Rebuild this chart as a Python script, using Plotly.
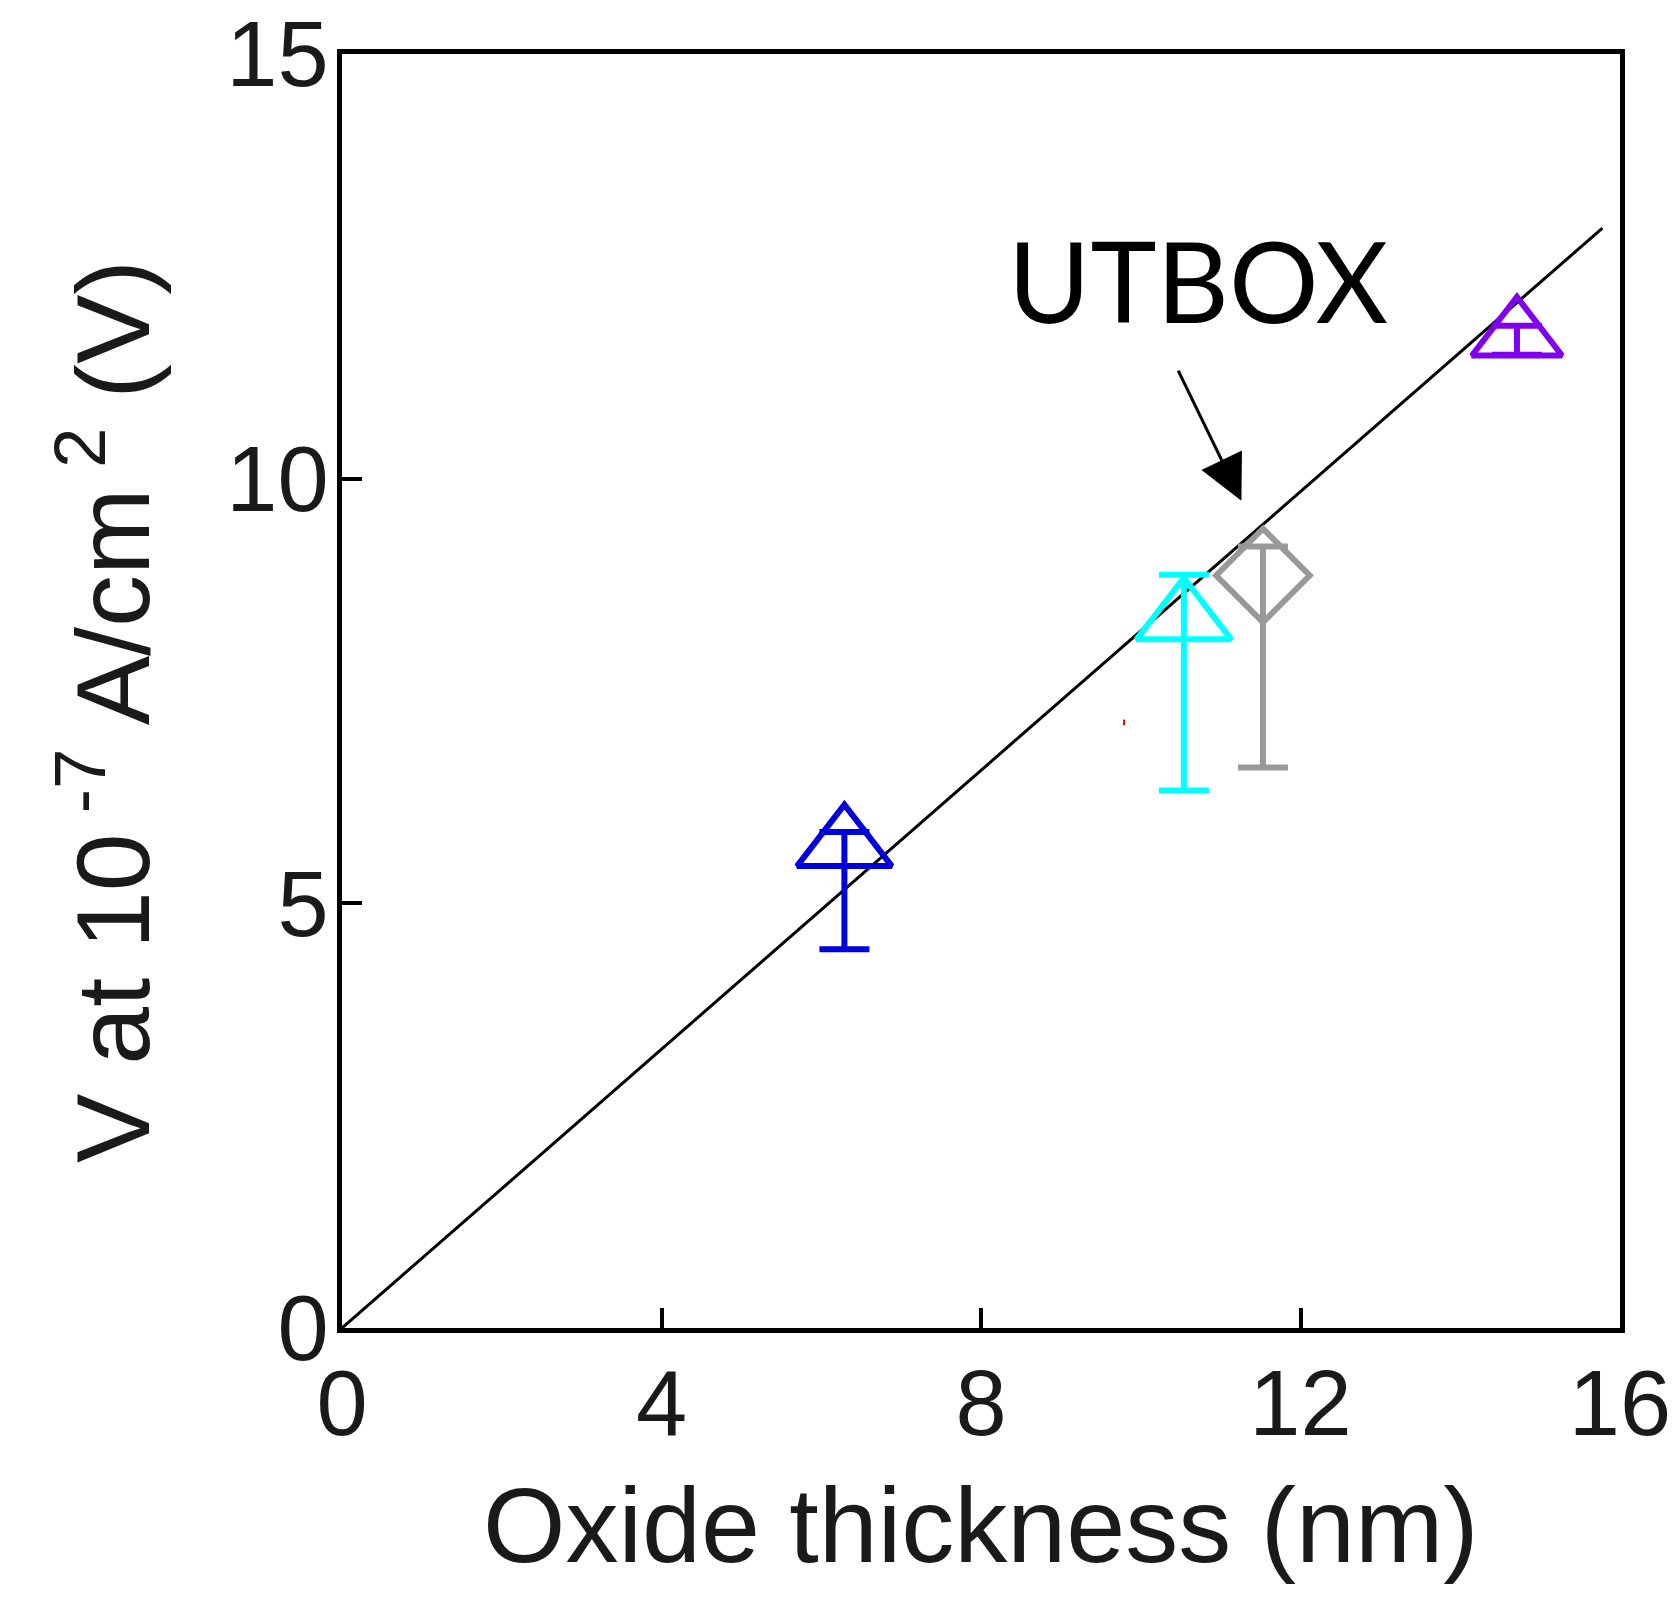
import plotly.graph_objects as go

# ---- data ----
thickness = [6.29, 10.54, 11.53, 14.71]          # nm
voltage = [5.68, 8.35, 8.86, 11.68]               # V
err_plus = [0.16, 0.52, 0.34, 0.12]
err_minus = [1.22, 2.02, 2.26, 0.22]
colors = ["#0000dd", "#00ffff", "#999999", "#8000ee"]
symbols = ["triangle-up-open", "triangle-up-open", "diamond-open", "triangle-up-open"]
sizes = [82, 82, 72, 78]

fit_x = [0.0, 15.78]
fit_y = [0.0, 12.95]

stray_x = [9.79]
stray_y = [7.13]

x_ticks = [0, 4, 8, 12, 16]
y_ticks = [0, 5, 10, 15]

arrow_tail = (10.46, 11.29)
arrow_tip = (11.26, 9.74)
label_pos = (10.72, 12.34)

x_title = "Oxide thickness (nm)"
y_title = "V at 10<sup> -7</sup> A/cm<sup> 2</sup> (V)"

fig = go.Figure()

fig.add_trace(go.Scatter(x=fit_x, y=fit_y, mode="lines",
                         line=dict(color="black", width=3), showlegend=False))

for i in range(len(thickness)):
    fig.add_trace(go.Scatter(
        x=[thickness[i]], y=[voltage[i]], mode="markers",
        marker=dict(symbol=symbols[i], size=sizes[i], color=colors[i],
                    line=dict(color=colors[i], width=6)),
        error_y=dict(type="data", symmetric=False, array=[err_plus[i]],
                     arrayminus=[err_minus[i]], color=colors[i],
                     thickness=6, width=25),
        showlegend=False))

fig.add_trace(go.Scatter(x=stray_x, y=stray_y, mode="markers",
                         marker=dict(color="red", size=4, symbol="line-ns",
                                     line=dict(color="red", width=2)),
                         showlegend=False))

fig.add_annotation(x=arrow_tip[0], y=arrow_tip[1], ax=arrow_tail[0], ay=arrow_tail[1],
                   xref="x", yref="y", axref="x", ayref="y", text="",
                   showarrow=True, arrowhead=2, arrowsize=3, arrowwidth=3,
                   arrowcolor="black")
fig.add_annotation(x=label_pos[0], y=label_pos[1], xref="x", yref="y",
                   text="UTBOX", showarrow=False,
                   font=dict(family="Lato", size=112, color="black"))

title_font = dict(family="Liberation Sans, Arial", size=106, color="#1a1a1a")
fig.add_annotation(x=0.5, y=-0.155, xref="paper", yref="paper", text=x_title,
                   showarrow=False, xanchor="center", yanchor="middle",
                   font=title_font)
fig.add_annotation(x=-0.185, y=0.484, xref="paper", yref="paper", text=y_title,
                   showarrow=False, xanchor="center", yanchor="middle",
                   textangle=-90, font=dict(family="Liberation Sans, Arial",
                                            size=104, color="#1a1a1a"))

axis_font = dict(family="Liberation Sans, Arial", size=92, color="#1a1a1a")
fig.update_layout(
    width=1675, height=1607,
    margin=dict(l=334, r=63, t=46, b=287),
    paper_bgcolor="white", plot_bgcolor="white",
    xaxis=dict(range=[0, 16], tickvals=x_ticks, ticks="inside", ticklen=20,
               tickwidth=4, tickcolor="black", showline=True, mirror=True,
               linecolor="black", linewidth=5, showgrid=False, zeroline=False,
               tickfont=axis_font, ticklabelstandoff=-8,
               ticklabeloverflow="allow", automargin=False),
    yaxis=dict(range=[0, 15.0001], tickvals=y_ticks, ticks="inside", ticklen=20,
               tickwidth=4, tickcolor="black", showline=True, mirror=True,
               linecolor="black", linewidth=5, showgrid=False, zeroline=False,
               tickfont=axis_font, ticklabelstandoff=-10,
               ticklabeloverflow="allow", automargin=False),
)

fig.write_html("out.html")
